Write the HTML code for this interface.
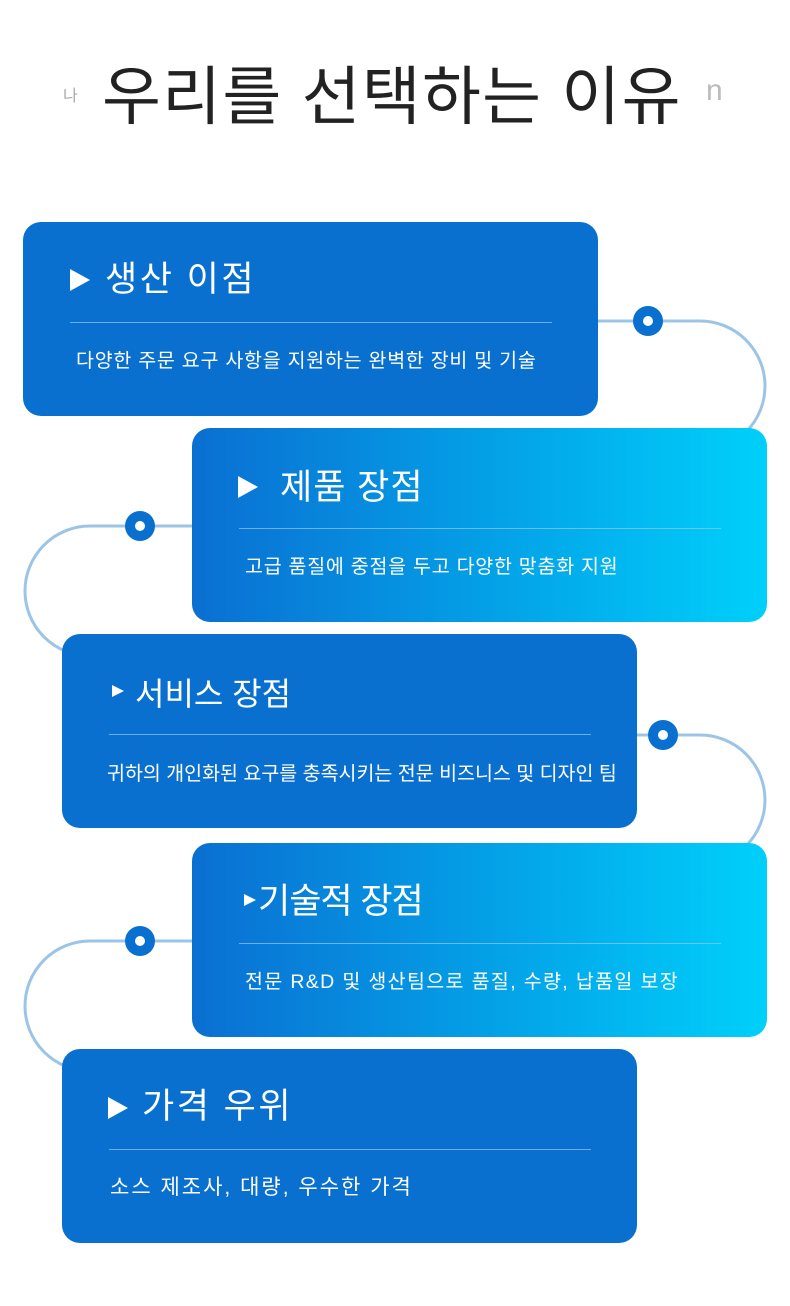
<!DOCTYPE html>
<html><head><meta charset="utf-8"><style>
body{margin:0;width:790px;height:1306px;background:#fff;position:relative;overflow:hidden;font-family:"Liberation Sans","Noto Sans CJK KR",sans-serif;}
.t{position:absolute;white-space:nowrap;}
.card{position:absolute;width:575px;height:194px;border-radius:18px;color:#fff;}
.solid{background:#0a70d0;}
.grad{background:linear-gradient(90deg,#0a6fd2 0%,#03a8ea 60%,#00d0fa 100%);}
.card .h{position:absolute;font-size:35px;line-height:40px;letter-spacing:2.5px;white-space:nowrap;}
.card .line{position:absolute;height:1px;background:rgba(150,200,245,0.7);width:482px;}
.card .s{position:absolute;font-size:19.5px;line-height:24px;letter-spacing:0.75px;white-space:nowrap;}
</style></head><body>
<div class="t" style="left:63px;top:82px;font-size:16px;color:#aaa;">나</div>
<div class="t" style="left:102px;top:60px;font-size:64px;line-height:74px;letter-spacing:1.3px;color:#222;">우리를 선택하는 이유</div>
<div class="t" style="left:706px;top:74px;font-size:30px;color:#bbb;">n</div>

<svg width="790" height="1306" style="position:absolute;left:0;top:0">
<g fill="none" stroke="#9cc4e6" stroke-width="3">
<path d="M590 321 H700 A65 65 0 0 1 700 451"/>
<path d="M200 526 H90 A65 65 0 0 0 90 656"/>
<path d="M630 735 H700 A65 65 0 0 1 700 865"/>
<path d="M200 941 H90 A65 65 0 0 0 90 1071"/>
</g>
<g fill="#0a70d0"><circle cx="648" cy="321" r="15"/><circle cx="140" cy="526" r="15"/><circle cx="663" cy="735" r="15"/><circle cx="140" cy="941" r="15"/></g>
<g fill="#fff"><circle cx="648" cy="321" r="5"/><circle cx="140" cy="526" r="5"/><circle cx="663" cy="735" r="5"/><circle cx="140" cy="941" r="5"/></g>
</svg>

<div class="card solid" style="left:23px;top:222px;">
<svg style="position:absolute;left:47px;top:47px" width="20" height="22"><polygon points="0,0 20,11 0,22" fill="#fff"/></svg>
<div class="h" style="left:82px;top:38px;">생산 이점</div>
<div class="line" style="left:47px;top:100px;"></div>
<div class="s" style="left:53px;top:127px;">다양한 주문 요구 사항을 지원하는 완벽한 장비 및 기술</div>
</div>

<div class="card grad" style="left:192px;top:428px;">
<svg style="position:absolute;left:46px;top:48px" width="20" height="22"><polygon points="0,0 20,11 0,22" fill="#fff"/></svg>
<div class="h" style="left:88px;top:40px;letter-spacing:1px;">제품 장점</div>
<div class="line" style="left:47px;top:100px;"></div>
<div class="s" style="left:53px;top:127px;">고급 품질에 중점을 두고 다양한 맞춤화 지원</div>
</div>

<div class="card solid" style="left:62px;top:634px;">
<svg style="position:absolute;left:50px;top:51px" width="12" height="12"><polygon points="0,0 12,6 0,12" fill="#fff"/></svg>
<div class="h" style="left:73px;top:40px;font-size:32px;letter-spacing:0px;">서비스 장점</div>
<div class="line" style="left:47px;top:100px;"></div>
<div class="s" style="left:45px;top:128px;letter-spacing:0px;">귀하의 개인화된 요구를 충족시키는 전문 비즈니스 및 디자인 팀</div>
</div>

<div class="card grad" style="left:192px;top:843px;">
<svg style="position:absolute;left:52px;top:51px" width="12" height="12"><polygon points="0,0 12,6 0,12" fill="#fff"/></svg>
<div class="h" style="left:66px;top:39px;letter-spacing:-1px;">기술적 장점</div>
<div class="line" style="left:47px;top:100px;"></div>
<div class="s" style="left:53px;top:127px;letter-spacing:1.35px;">전문 R&amp;D 및 생산팀으로 품질, 수량, 납품일 보장</div>
</div>

<div class="card solid" style="left:62px;top:1049px;">
<svg style="position:absolute;left:46px;top:48px" width="20" height="22"><polygon points="0,0 20,11 0,22" fill="#fff"/></svg>
<div class="h" style="left:80px;top:38px;">가격 우위</div>
<div class="line" style="left:47px;top:100px;"></div>
<div class="s" style="left:48px;top:127px;font-size:21px;letter-spacing:2px;">소스 제조사, 대량, 우수한 가격</div>
</div>
</body></html>
